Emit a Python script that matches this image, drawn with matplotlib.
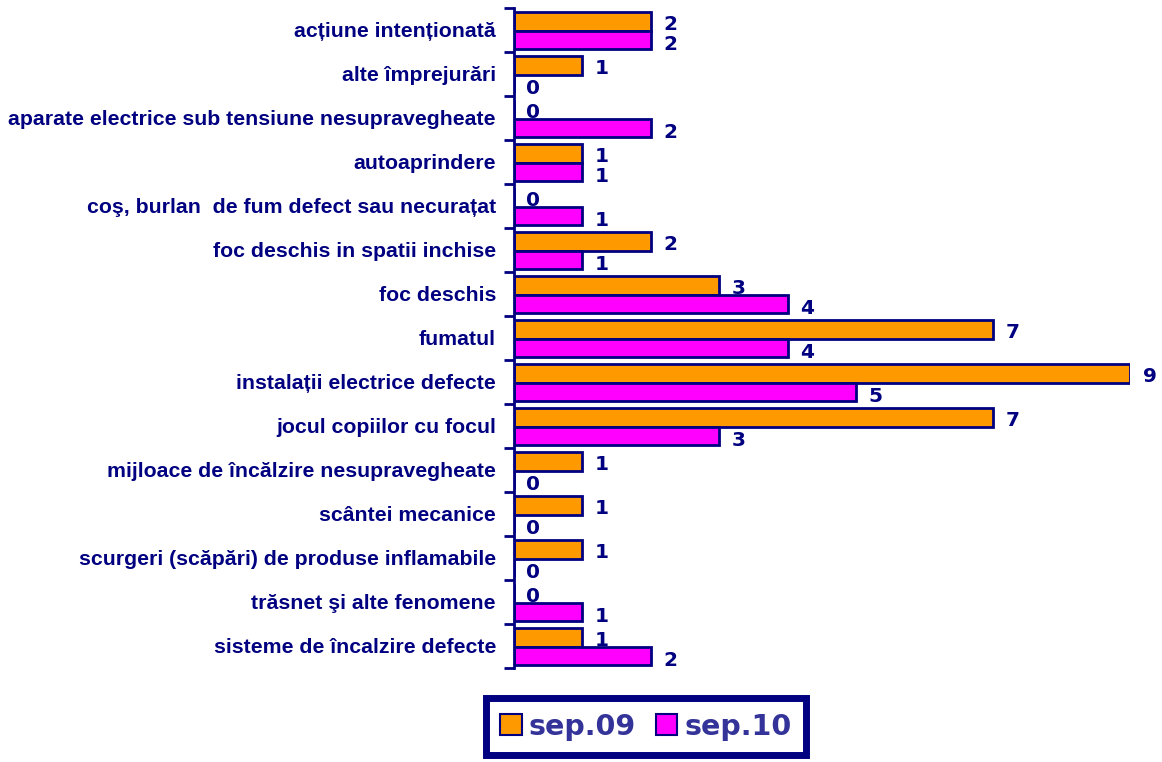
import numpy as np
import matplotlib.pyplot as plt
from matplotlib.patches import Patch

categories = [
    'acțiune intenționată',
    'alte împrejurări',
    'aparate electrice sub tensiune nesupravegheate',
    'autoaprindere',
    'coş, burlan  de fum defect sau necurațat',
    'foc deschis in spatii inchise',
    'foc deschis',
    'fumatul',
    'instalații electrice defecte',
    'jocul copiilor cu focul',
    'mijloace de încălzire nesupravegheate',
    'scântei mecanice',
    'scurgeri (scăpări) de produse inflamabile',
    'trăsnet şi alte fenomene',
    'sisteme de încalzire defecte',
]
sep09 = [2, 1, 0, 1, 0, 2, 3, 7, 9, 7, 1, 1, 1, 0, 1]
sep10 = [2, 0, 2, 1, 1, 1, 4, 4, 5, 3, 0, 0, 0, 1, 2]
series_names = ['sep.09', 'sep.10']

navy = '#000080'
orange = '#FF9900'
magenta = '#FF00FF'

fig = plt.figure(figsize=(11.62, 7.62), dpi=100)
ax = fig.add_axes([0.4423, 0.1234, 0.5302, 0.8661])

y = np.arange(len(categories))
h = 0.42
ax.barh(y - 0.19, sep09, height=h, color=orange, edgecolor=navy, linewidth=2)
ax.barh(y + 0.23, sep10, height=h, color=magenta, edgecolor=navy, linewidth=2)

for yi, v in zip(y, sep09):
    ax.annotate(str(v), (v, yi - 0.12), xytext=(9, 0), textcoords='offset points',
                ha='left', va='center', fontsize=14.5, fontweight='bold',
                color=navy, family='DejaVu Sans', annotation_clip=False)
for yi, v in zip(y, sep10):
    ax.annotate(str(v), (v, yi + 0.33), xytext=(9, 0), textcoords='offset points',
                ha='left', va='center', fontsize=14.5, fontweight='bold',
                color=navy, family='DejaVu Sans', annotation_clip=False)

ax.set_xlim(0, 9)
ax.set_ylim(len(categories) - 0.5, -0.5)

# category labels at group centres, ticks at group edges
ax.set_yticks(y)
ax.set_yticklabels(categories, fontsize=15.3, fontweight='bold', color=navy,
                   family='Liberation Sans')
ax.tick_params(axis='y', which='major', length=0, pad=13)
ax.set_yticks(np.arange(len(categories) + 1) - 0.5, minor=True)
ax.tick_params(axis='y', which='minor', length=7, width=2, color=navy, direction='out')
ax.set_xticks([])

for s in ['top', 'right', 'bottom']:
    ax.spines[s].set_visible(False)
ax.spines['left'].set_color(navy)
ax.spines['left'].set_linewidth(2)

handles = [Patch(facecolor=orange, edgecolor=navy, linewidth=1.5),
           Patch(facecolor=magenta, edgecolor=navy, linewidth=1.5)]
leg = fig.legend(handles, series_names, loc='center', bbox_to_anchor=(0.556, 0.0465),
                 ncol=2, frameon=True, fancybox=False, framealpha=1,
                 handlelength=0.75, handleheight=0.75,
                 handletextpad=0.25, columnspacing=0.7, borderpad=0.5, borderaxespad=0,
                 prop={'family': 'DejaVu Sans', 'weight': 'bold', 'size': 20.5})
leg.get_frame().set_edgecolor(navy)
leg.get_frame().set_linewidth(5)
for t in leg.get_texts():
    t.set_color('#333399')

fig.savefig('out.png', dpi=100)
